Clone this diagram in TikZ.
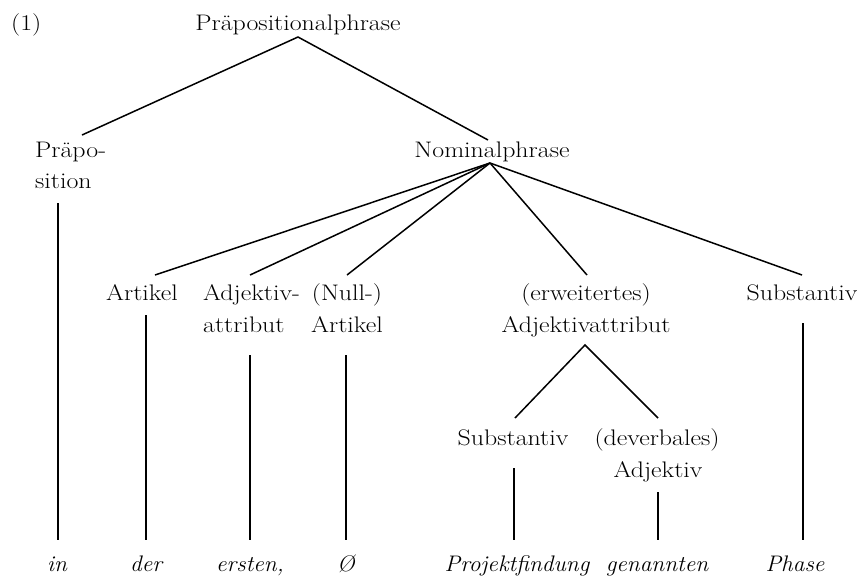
\documentclass[tikz,border=0pt]{standalone}
\usepackage{fontspec}
\setmainfont[FakeStretch=1.15]{Latin Modern Roman}
\newfontfamily\wordfont[FakeStretch=1.04]{Latin Modern Roman}
\begin{document}
\begin{tikzpicture}[x=1pt,y=-1pt,
  lab/.style={anchor=base,inner sep=0pt,font=\fontsize{22.5}{27}\selectfont},
  labw/.style={lab,anchor=base west},
  word/.style={lab,font=\wordfont\fontsize{22.5}{27}\selectfont\itshape},
  edge/.style={line width=1.5pt},
  vedge/.style={line width=1.3pt}]
\useasboundingbox (0,0) rectangle (859,579);
% labels
\node[labw] (ex) at (11,30) {(1)};
\node[lab] (pp) at (298,30) {Präpositionalphrase};
\node[labw] (prep1) at (35,157) {Präpo-};
\node[labw] (prep2) at (35,188) {sition};
\node[lab] (np) at (492,157) {Nominalphrase};
\node[lab] (art) at (142,300) {Artikel};
\node[labw] (adj1) at (203,300) {Adjektiv-};
\node[labw] (adj2) at (203,332) {attribut};
\node[lab] (null1) at (347,300) {(Null-)};
\node[lab] (null2) at (347,332) {Artikel};
\node[lab] (erw1) at (586,300) {(erweitertes)};
\node[lab] (erw2) at (586,332) {Adjektivattribut};
\node[lab] (subst) at (802,300) {Substantiv};
\node[lab] (sub2) at (513,445) {Substantiv};
\node[lab] (dev1) at (657,445) {(deverbales)};
\node[lab] (dev2) at (658,477) {Adjektiv};
% words
\node[word] (w1) at (57,571) {in};
\node[word] (w2) at (146,571) {der};
\node[word] (w3) at (250,571) {ersten,};
\node[word] (w4) at (346,571) {Ø};
\node[word] (w5) at (517,571) {Projektfindung};
\node[word] (w6) at (657,571) {genannten};
\node[word] (w7) at (795,571) {Phase};
% connector end points
\coordinate (ppT) at (298,37);
\coordinate (prepT) at (82,135);
\coordinate (npT) at (488,140);
\coordinate (npB) at (490,163);
\coordinate (artT) at (155,275);
\coordinate (adjT) at (250,275);
\coordinate (nullT) at (347,275);
\coordinate (erwT) at (587,275);
\coordinate (subT) at (802,275);
\coordinate (erwB) at (585,345);
\coordinate (sub2T) at (515,418);
\coordinate (devT) at (658,418);
% vertical line ends
\coordinate (v1a) at (58,203); \coordinate (v1b) at (58,540);
\coordinate (v2a) at (146,315); \coordinate (v2b) at (146,540);
\coordinate (v3a) at (250,355); \coordinate (v3b) at (250,540);
\coordinate (v4a) at (346,355); \coordinate (v4b) at (346,540);
\coordinate (v5a) at (514,468); \coordinate (v5b) at (514,540);
\coordinate (v6a) at (658,492); \coordinate (v6b) at (658,540);
\coordinate (v7a) at (803,323); \coordinate (v7b) at (803,540);
% tree edges
\draw[edge] (prepT) -- (ppT) -- (npT);
\foreach \t in {artT,adjT,nullT,erwT,subT} \draw[edge] (npB) -- (\t);
\draw[edge] (sub2T) -- (erwB) -- (devT);
\foreach \i in {1,...,7} \draw[vedge] (v\i a) -- (v\i b);
\end{tikzpicture}
\end{document}
